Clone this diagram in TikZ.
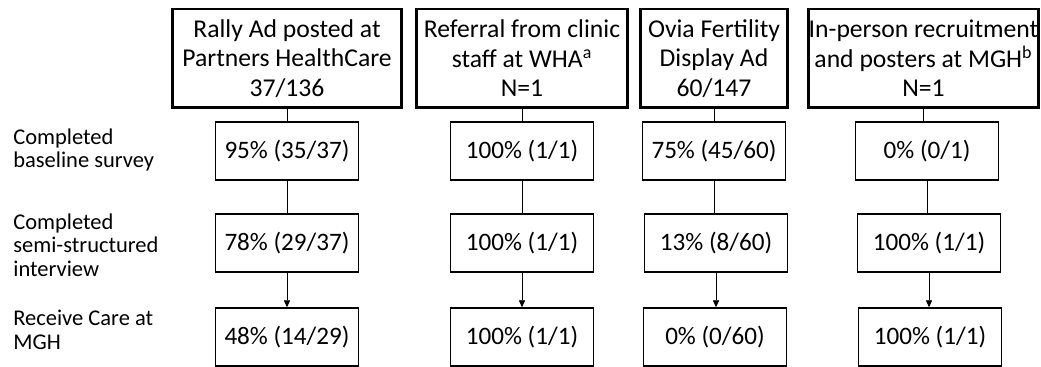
\documentclass[tikz,border=0pt]{standalone}
\usepackage{fontspec}
\setmainfont{Carlito}
\usetikzlibrary{arrows.meta}
\tikzset{
  srcbox/.style={draw, rectangle, line width=1.7pt, align=center, inner sep=0pt,
    minimum height=1.98cm, font=\fontsize{14.6}{16.8}\selectfont},
  pctbox/.style={draw, rectangle, line width=0.8pt, inner sep=0pt,
    minimum width=2.86cm, minimum height=1.16cm, font=\fontsize{14.3}{16.5}\selectfont},
  rowlbl/.style={anchor=west, align=left, inner sep=0pt,
    font=\fontsize{12.8}{13.4}\selectfont},
  link/.style={line width=0.5pt},
}
\begin{document}
\begin{tikzpicture}[x=0.02cm,y=-0.02cm]
\useasboundingbox (0,0) rectangle (1041,367);
% recruitment sources
\node[srcbox, minimum width=4.6cm] (s1) at (287,58.5) {Rally Ad posted at\\Partners HealthCare\\37/136};
\node[srcbox, minimum width=4.24cm] (s2) at (522,58.5) {Referral from clinic\\staff at WHA\textsuperscript{a}\\N=1};
\node[srcbox, minimum width=2.94cm] (s3) at (714,58.5) {Ovia Fertility\\Display Ad\\60/147};
\node[srcbox, minimum width=4.62cm] (s4) at (923.5,58.5) {In-person recruitment\\and posters at MGH\textsuperscript{b}\\N=1};
% row labels
\node[rowlbl] (l1) at (13,150) {Completed\\baseline survey};
\node[rowlbl] (l2) at (13,245) {Completed\\semi-structured\\interview};
\node[rowlbl] (l3) at (13,330) {Receive Care at\\MGH};
% baseline survey
\node[pctbox] (b1) at (287,151) {95\% (35/37)};
\node[pctbox] (b2) at (522,151) {100\% (1/1)};
\node[pctbox] (b3) at (714,151) {75\% (45/60)};
\node[pctbox] (b4) at (927,151) {0\% (0/1)};
% interview
\node[pctbox] (i1) at (287,243) {78\% (29/37)};
\node[pctbox] (i2) at (522,243) {100\% (1/1)};
\node[pctbox] (i3) at (716,243) {13\% (8/60)};
\node[pctbox] (i4) at (929,243) {100\% (1/1)};
% care at MGH
\node[pctbox] (c1) at (287,337) {48\% (14/29)};
\node[pctbox] (c2) at (522,337) {100\% (1/1)};
\node[pctbox] (c3) at (715,337) {0\% (0/60)};
\node[pctbox] (c4) at (930,337) {100\% (1/1)};
\foreach \k in {1,2,3,4} {
  \draw[link] (s\k) -- (s\k |- b\k.north);
  \draw[link] (b\k) -- (b\k |- i\k.north);
  \draw[link, -{Triangle[length=4pt,width=3.5pt]}] (i\k) -- (i\k |- c\k.north);
}
\end{tikzpicture}
\end{document}
